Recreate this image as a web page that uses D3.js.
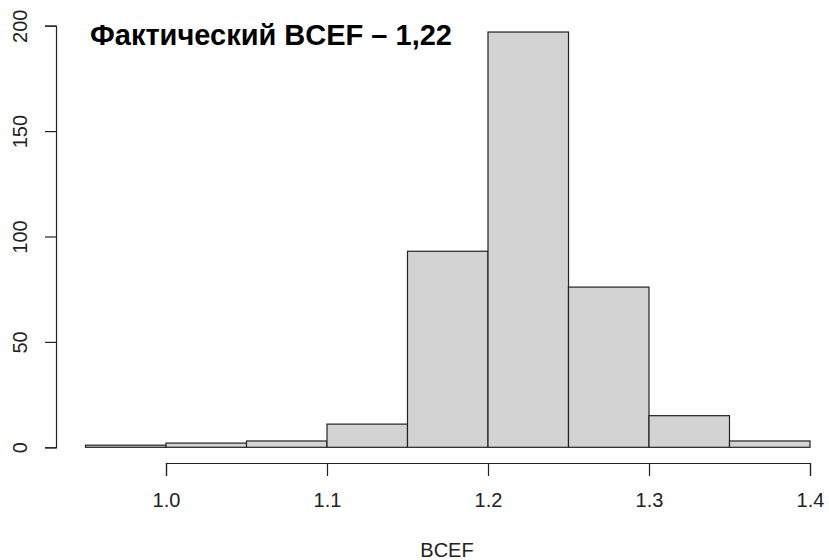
<!DOCTYPE html>
<html>
<head>
<meta charset="utf-8">
<script src="https://cdn.jsdelivr.net/npm/d3@7"></script>
<style>
  body { margin: 0; background: #fff; }
  text { font-family: "Liberation Sans", Arial, sans-serif; }
</style>
</head>
<body>
<script>
// histogram bins (left edges) and counts
var binStarts = [0.95, 1.00, 1.05, 1.10, 1.15, 1.20, 1.25, 1.30, 1.35];
var binWidth = 0.05;
var counts = [1, 2, 3, 11, 93, 197, 76, 15, 3];
var xTicks = [1.0, 1.1, 1.2, 1.3, 1.4];
var yTicks = [0, 50, 100, 150, 200];

var w = 829, h = 560;

var svg = d3.select("body")
  .append("svg")
  .attr("width", w)
  .attr("height", h);

var xScale = d3.scaleLinear()
  .domain([1.0, 1.4])
  .range([166, 810]);

var yScale = d3.scaleLinear()
  .domain([0, 200])
  .range([447.3, 25.7]);

/* ===== BARS ===== */
svg.selectAll("rect.bar")
  .data(counts)
  .enter()
  .append("rect")
  .attr("class", "bar")
  .attr("x", function (d, i) { return xScale(binStarts[i]); })
  .attr("y", function (d) { return yScale(d); })
  .attr("width", function (d, i) { return xScale(binStarts[i] + binWidth) - xScale(binStarts[i]); })
  .attr("height", function (d) { return yScale(0) - yScale(d); })
  .attr("fill", "#d3d3d3")
  .attr("stroke", "#222")
  .attr("stroke-width", 1.2);

/* ===== AXES ===== */
var xAxis = d3.axisBottom(xScale)
  .tickValues(xTicks)
  .tickSizeOuter(0)
  .tickSize(13)
  .tickPadding(10)
  .tickFormat(d3.format(".1f"));

var gx = svg.append("g")
  .attr("transform", "translate(0,463)")
  .call(xAxis);

var yAxis = d3.axisLeft(yScale)
  .tickValues(yTicks)
  .tickSizeOuter(0)
  .tickSize(11);

var gy = svg.append("g")
  .attr("transform", "translate(56,0)")
  .call(yAxis);

svg.selectAll(".domain, .tick line")
  .attr("stroke", "#222")
  .attr("stroke-width", 1.2);

gx.selectAll(".tick text")
  .attr("font-size", "20px")
  .attr("fill", "#222")
  .attr("y", 0)
  .attr("dy", 0)
  .attr("transform", "translate(0,44)")
  .style("font-family", "'Liberation Sans', Arial, sans-serif");

gy.selectAll(".tick text")
  .attr("font-size", "20px")
  .attr("fill", "#222")
  .attr("text-anchor", "middle")
  .attr("x", 0)
  .attr("y", 0)
  .attr("dy", 0)
  .attr("transform", "translate(-29,0) rotate(-90)")
  .style("font-family", "'Liberation Sans', Arial, sans-serif");

/* ===== LABELS ===== */
svg.append("text")
  .attr("x", 90)
  .attr("y", 45)
  .attr("font-size", "29px")
  .attr("font-weight", "bold")
  .attr("fill", "#000")
  .text("Фактический BCEF – 1,22");

svg.append("text")
  .attr("x", 447)
  .attr("y", 557)
  .attr("text-anchor", "middle")
  .attr("font-size", "20px")
  .attr("fill", "#222")
  .text("BCEF");
</script>
</body>
</html>
